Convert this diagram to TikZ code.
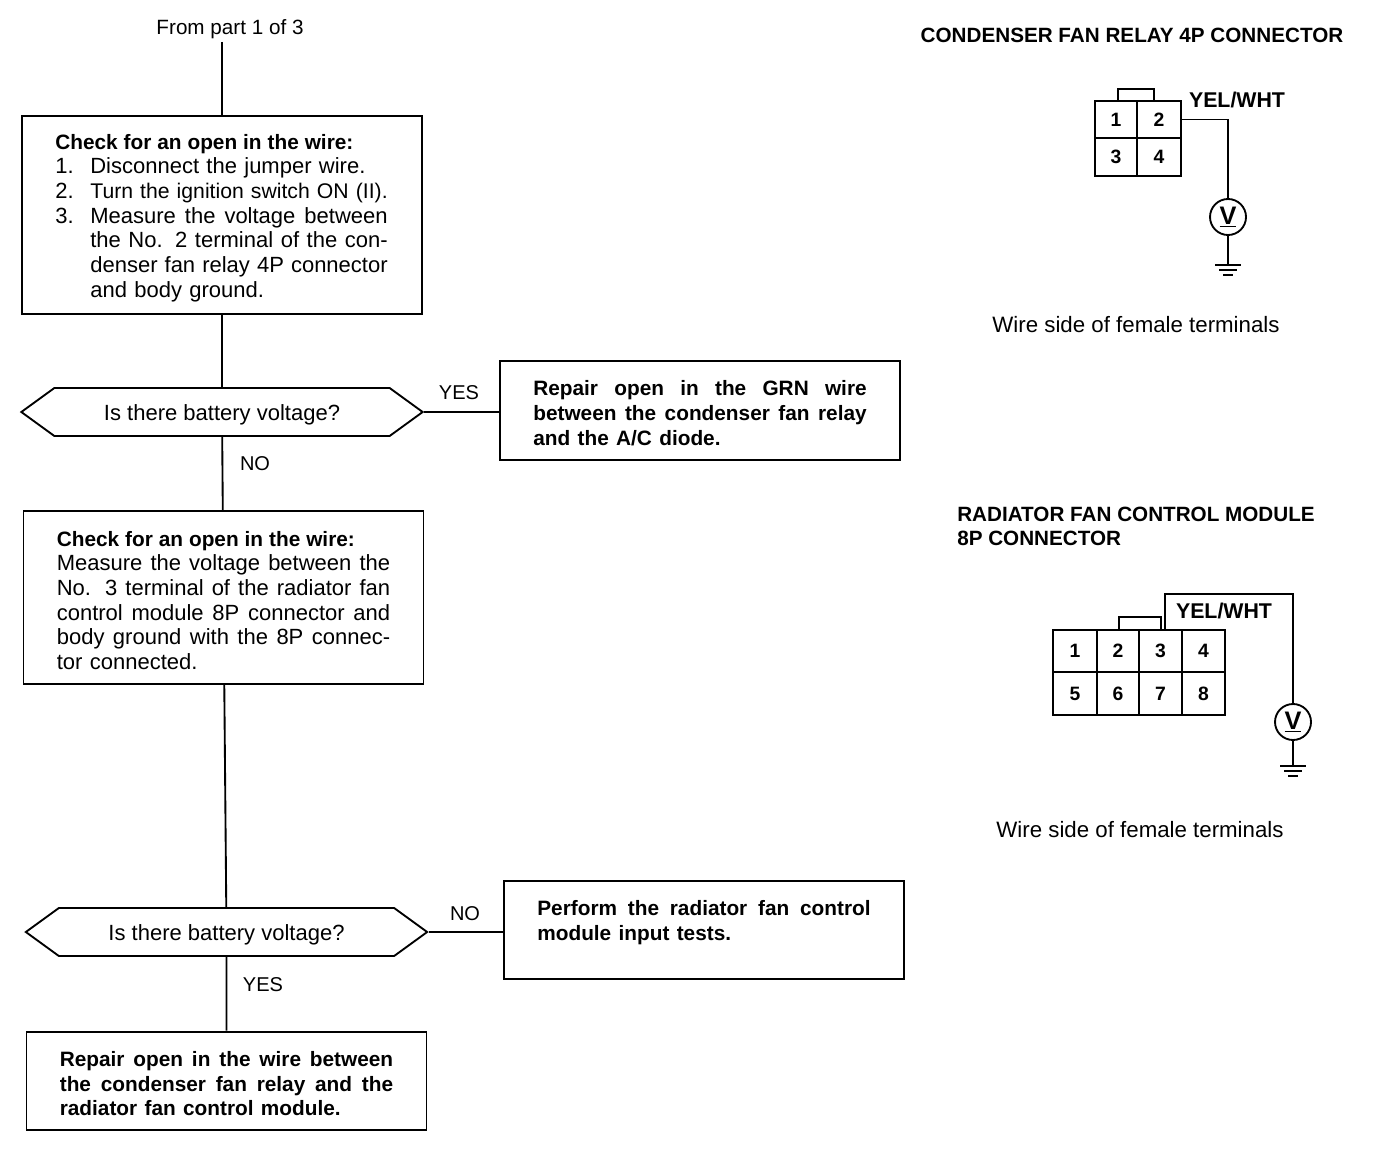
\documentclass[tikz,border=0pt]{standalone}
\usepackage{fontspec}
\setmainfont{Liberation Sans}
\usepackage{tikz}
\usetikzlibrary{shapes.symbols}

\newcommand{\fitline}[2]{\makebox[#1][s]{\spaceskip=0pt\xspaceskip=0pt #2}}
\newcommand{\numline}[1]{\makebox[26.25pt][l]{#1}}
\newcommand{\gndsym}[1]{%
  \draw[wire] ([xshift=-9.75pt]#1) -- ([xshift=9.75pt]#1);
  \draw[wire] ([xshift=-6.5pt,yshift=-3.75pt]#1) -- ([xshift=6.5pt,yshift=-3.75pt]#1);
  \draw[wire] ([xshift=-3.5pt,yshift=-7.5pt]#1) -- ([xshift=3.5pt,yshift=-7.5pt]#1);
}
\newcommand{\boldset}{\fontsize{15.6}{18.5}\selectfont\bfseries}
\tikzset{
  wire/.style={line width=1.4pt},
  stepbox/.style={shape=rectangle,draw=black,line width=1.4pt,minimum width=300pt,inner sep=0pt,
    text width=250pt,align=left,font=\fontsize{16.5}{18.5}\selectfont,
    execute at begin node={\leavevmode\rule{0pt}{15.5pt}}},
  askbox/.style={shape=signal,signal to=west and east,signal pointer angle=72,draw=black,line width=1.4pt,
    minimum width=301pt,minimum height=36pt,inner sep=0pt,text height=12pt,text depth=0pt,
    font=\fontsize{16.5}{18}\selectfont},
  plain/.style={inner sep=0pt,font=\fontsize{15}{18}\selectfont},
  note/.style={inner sep=0pt,font=\fontsize{16.7}{18}\selectfont},
  head/.style={inner sep=0pt,align=left,font=\fontsize{15.5}{18.5}\selectfont\bfseries},
  pin/.style={shape=rectangle,draw=black,line width=1.4pt,inner sep=0pt,font=\fontsize{14.5}{16}\selectfont\bfseries},
  meter/.style={shape=circle,draw=black,line width=1.4pt,inner sep=0pt,minimum size=27pt,font=\fontsize{19}{19}\selectfont\bfseries},
}

\begin{document}
\begin{tikzpicture}[x=0.75pt,y=-0.75pt]
    \useasboundingbox (0,0) rectangle (1376,1152);
    % flow chart
    \node[plain,font=\fontsize{15.5}{18}\selectfont] (from) at (230,29) {From part 1 of 3};
    \coordinate (start) at (222,42);
    \node[stepbox,minimum height=148.5pt] (open1) at (222,215) {{\boldset\fitline{223.5pt}{Check for an open in the wire:}}\\
      \numline{1.}Disconnect the jumper wire.\\
      \numline{2.}\fitline{223pt}{\fontsize{15.9}{18.5}\selectfont Turn the ignition switch ON (II).}\\
      \numline{3.}\fitline{223pt}{Measure the voltage between}\\
      \hspace*{26.25pt}\fitline{223pt}{the No. 2 terminal of the con-}\\
      \hspace*{26.25pt}\fitline{223pt}{denser fan relay 4P connector}\\
      \hspace*{26.25pt}and body ground.};
    \node[askbox] (ask1) at (222,412) {Is there battery voltage?};
    \node[stepbox,minimum height=74.5pt] (grn) at (700,410.5) {\boldset
      \fitline{250pt}{Repair open in the GRN wire}\\
      \fitline{250pt}{between the condenser fan relay}\\
      and the A/C diode.};
    \node[stepbox,minimum height=130pt] (open2) at (223.5,597.5) {{\boldset\fitline{223.5pt}{Check for an open in the wire:}}\\
      \fitline{250pt}{Measure the voltage between the}\\
      \fitline{250pt}{No. 3 terminal of the radiator fan}\\
      \fitline{250pt}{control module 8P connector and}\\
      \fitline{250pt}{body ground with the 8P connec-}\\
      tor connected.};
    \node[askbox] (ask2) at (226.5,932) {Is there battery voltage?};
    \node[stepbox,minimum height=73.5pt] (inputs) at (704,930) {\boldset
      \fitline{250pt}{Perform the radiator fan control}\\
      module input tests.\\ \mbox{}};
    \node[stepbox,minimum height=74pt] (relay) at (226.5,1081) {\boldset
      \fitline{250pt}{Repair open in the wire between}\\
      \fitline{250pt}{the condenser fan relay and the}\\
      radiator fan control module.};
    \node[plain] (yes1) at (459,393) {YES};
    \node[plain] (no1) at (255,464) {NO};
    \node[plain] (no2) at (465,914) {NO};
    \node[plain] (yes2) at (263,985) {YES};
    \path [wire] (start) edge (open1);
    \path [wire] (open1) edge (ask1);
    \path [wire] (ask1) edge (open2);
    \path [wire] (open2) edge (ask2);
    \path [wire] (ask2) edge (relay);
    \path [wire] (ask1.east) edge (grn.west |- ask1.east);
    \path [wire] (ask2.east) edge (inputs.west |- ask2.east);
    % first connector
    \node[head] (title1) at (1132,35) {CONDENSER FAN RELAY 4P CONNECTOR};
    \node[pin,minimum width=31.5pt,minimum height=27.75pt] (a1) at (1116,119.5) {1};
    \node[pin,minimum width=33pt,minimum height=27.75pt] (a2) at (1159,119.5) {2};
    \node[pin,minimum width=31.5pt,minimum height=28.5pt] (a3) at (1116,157) {3};
    \node[pin,minimum width=33pt,minimum height=28.5pt] (a4) at (1159,157) {4};
    \coordinate (tab1) at (1118,101);
    \coordinate (tab2) at (1154,101);
    \coordinate (tabtop1) at (1136,89);
    \draw[wire] (tab1) |- (tabtop1) -| (tab2);
    \node[head,font=\fontsize{16}{18}\selectfont\bfseries] (yel1) at (1237,100) {YEL/WHT};
    \node[meter] (vm1) at (1228,217) {\underline{V}};
    \coordinate (gnd1) at (1228,265);
    \draw[wire] (a2.east) -| (vm1.north);
    \draw[wire] (vm1.south) -- (gnd1);
    \gndsym{gnd1}
    \node[note] (side1) at (1136,325) {Wire side of female terminals};
    % second connector
    \node[head] (title2) at (1136,526.5) {RADIATOR FAN CONTROL MODULE\\8P CONNECTOR};
    \node[pin,minimum width=33pt,minimum height=31pt] (b1) at (1075,651) {1};
    \node[pin,minimum width=31.5pt,minimum height=31pt] (b2) at (1118,651) {2};
    \node[pin,minimum width=32.25pt,minimum height=31pt] (b3) at (1160.5,651) {3};
    \node[pin,minimum width=32.25pt,minimum height=31pt] (b4) at (1203.5,651) {4};
    \node[pin,minimum width=33pt,minimum height=32.5pt] (b5) at (1075,693.5) {5};
    \node[pin,minimum width=31.5pt,minimum height=32.5pt] (b6) at (1118,693.5) {6};
    \node[pin,minimum width=32.25pt,minimum height=32.5pt] (b7) at (1160.5,693.5) {7};
    \node[pin,minimum width=32.25pt,minimum height=32.5pt] (b8) at (1203.5,693.5) {8};
    \coordinate (tab3) at (1119,630);
    \coordinate (tab4) at (1161,630);
    \coordinate (tabtop2) at (1140,617);
    \draw[wire] (tab3) |- (tabtop2) -| (tab4);
    \node[head,font=\fontsize{16}{18}\selectfont\bfseries] (yel2) at (1224,611) {YEL/WHT};
    \node[meter] (vm2) at (1293,722) {\underline{V}};
    \coordinate (wire2) at (1165,630);
    \coordinate (corner2) at (1293,594);
    \coordinate (gnd2) at (1293,766);
    \draw[wire] (wire2) |- (corner2) -- (vm2.north);
    \draw[wire] (vm2.south) -- (gnd2);
    \gndsym{gnd2}
    \node[note] (side2) at (1140,830) {Wire side of female terminals};
\end{tikzpicture}
\end{document}
